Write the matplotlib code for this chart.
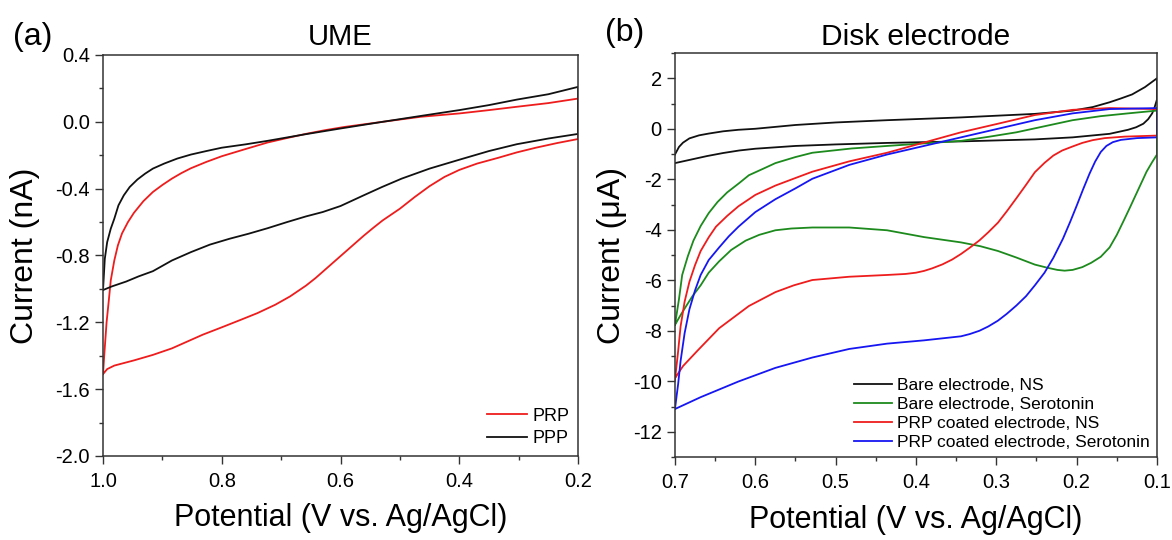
import matplotlib
matplotlib.use('Agg')
import matplotlib.pyplot as plt
from matplotlib.ticker import MultipleLocator
import numpy as np

plt.rcParams['font.family'] = ['Liberation Sans', 'DejaVu Sans']
plt.rcParams['axes.unicode_minus'] = False

# ---- (a) UME, potential (V) / current (nA), one closed CV loop per sample
ppp_v = [1.0, 0.997, 0.993, 0.987, 0.981, 0.974, 0.965, 0.955, 0.942, 0.929, 0.916, 0.897, 0.875, 0.852, 0.826, 0.80,
         0.76, 0.723, 0.66, 0.6, 0.529, 0.465, 0.4, 0.35, 0.303, 0.25, 0.2,
         0.2, 0.25, 0.303, 0.35, 0.4, 0.45, 0.497, 0.53, 0.561, 0.6, 0.63, 0.658, 0.69, 0.723, 0.755, 0.787, 0.82,
         0.852, 0.884, 0.916, 0.94, 0.961, 0.985, 1.0]
ppp_i = [-1.007, -0.82, -0.72, -0.64, -0.58, -0.50, -0.44, -0.39, -0.345, -0.31, -0.28, -0.25, -0.22, -0.196, -0.175, -0.155,
         -0.135, -0.114, -0.075, -0.04, 0.0, 0.035, 0.07, 0.10, 0.133, 0.165, 0.209,
         -0.0725, -0.10, -0.134, -0.175, -0.227, -0.28, -0.34, -0.39, -0.44, -0.504, -0.54, -0.566, -0.60, -0.637, -0.67, -0.70, -0.735,
         -0.78, -0.83, -0.894, -0.925, -0.956, -0.985, -1.007]

prp_v = [1.0, 0.998, 0.996, 0.994, 0.99, 0.987, 0.981, 0.975, 0.968, 0.958, 0.948, 0.932, 0.916, 0.9, 0.884, 0.868, 0.852,
         0.826, 0.80, 0.76, 0.723, 0.69, 0.658, 0.626, 0.594, 0.529, 0.465, 0.4, 0.35, 0.303, 0.25, 0.2,
         0.2, 0.235, 0.271, 0.303, 0.335, 0.37, 0.4, 0.425, 0.45, 0.475, 0.5, 0.529, 0.545, 0.561, 0.578, 0.594, 0.61, 0.626,
         0.642, 0.658, 0.685, 0.71, 0.74, 0.768, 0.8, 0.832, 0.858, 0.884, 0.916, 0.948, 0.981, 0.993, 1.0]
prp_i = [-1.51, -1.40, -1.30, -1.20, -1.06, -0.95, -0.83, -0.74, -0.668, -0.60, -0.545, -0.475, -0.42, -0.378, -0.34, -0.307, -0.278,
         -0.24, -0.206, -0.163, -0.124, -0.097, -0.072, -0.05, -0.031, 0.0, 0.03, 0.05, 0.07, 0.09, 0.112, 0.139,
         -0.103, -0.127, -0.155, -0.183, -0.216, -0.25, -0.288, -0.33, -0.385, -0.45, -0.52, -0.59, -0.635, -0.682, -0.735, -0.785, -0.835, -0.885,
         -0.935, -0.98, -1.045, -1.095, -1.145, -1.185, -1.23, -1.274, -1.315, -1.356, -1.395, -1.428, -1.459, -1.48, -1.51]

# ---- (b) disk electrode, potential (V) / current (uA)
bare_ns_v = [0.7, 0.695, 0.69, 0.682, 0.67, 0.658, 0.64, 0.621, 0.6, 0.55, 0.5, 0.436, 0.344, 0.252, 0.205, 0.18, 0.159,
             0.145, 0.131, 0.115, 0.1,
             0.1, 0.103, 0.106, 0.111, 0.117, 0.126, 0.136, 0.159, 0.205, 0.252, 0.344, 0.436, 0.5, 0.55, 0.6,
             0.62, 0.64, 0.66, 0.68, 0.7]
bare_ns_i = [-1.02, -0.72, -0.55, -0.38, -0.26, -0.19, -0.1, -0.04, 0.0, 0.15, 0.25, 0.34, 0.45, 0.59, 0.72, 0.86, 1.05,
             1.2, 1.36, 1.65, 2.0,
             1.16, 0.85, 0.61, 0.38, 0.2, 0.06, -0.04, -0.2, -0.34, -0.42, -0.5, -0.56, -0.62, -0.68, -0.79,
             -0.86, -0.96, -1.08, -1.22, -1.36]

bare_st_v = [0.7, 0.695, 0.691, 0.684, 0.677, 0.668, 0.658, 0.647, 0.635, 0.62, 0.608, 0.59, 0.575, 0.55, 0.529, 0.48, 0.436,
             0.39, 0.344, 0.31, 0.275, 0.24, 0.205, 0.17, 0.136, 0.1,
             0.1, 0.106, 0.113, 0.12, 0.127, 0.134, 0.141, 0.15, 0.159, 0.17, 0.182, 0.193, 0.205, 0.215, 0.224, 0.237, 0.252,
             0.275, 0.298, 0.32, 0.344, 0.39, 0.436, 0.483, 0.529, 0.555, 0.575, 0.595, 0.612, 0.63, 0.645, 0.658, 0.668,
             0.678, 0.686, 0.693, 0.7]
bare_st_i = [-7.77, -6.75, -5.79, -5.05, -4.43, -3.85, -3.34, -2.9, -2.52, -2.15, -1.84, -1.58, -1.36, -1.12, -0.95, -0.78, -0.68,
             -0.58, -0.48, -0.32, -0.14, 0.1, 0.34, 0.5, 0.61, 0.72,
             -1.02, -1.32, -1.70, -2.18, -2.66, -3.14, -3.61, -4.2, -4.70, -5.07, -5.31, -5.48, -5.59, -5.62, -5.59, -5.5, -5.38,
             -5.1, -4.84, -4.65, -4.50, -4.29, -4.02, -3.91, -3.91, -3.95, -4.02, -4.2, -4.43, -4.8, -5.25, -5.7, -6.2,
             -6.62, -7.02, -7.38, -7.77]

prp_ns_v = [0.7, 0.696, 0.693, 0.688, 0.682, 0.675, 0.668, 0.658, 0.649, 0.635, 0.621, 0.6, 0.575, 0.55, 0.529, 0.483, 0.436,
            0.39, 0.344, 0.298, 0.252, 0.205, 0.159, 0.1,
            0.1, 0.14, 0.165, 0.18, 0.193, 0.205, 0.218, 0.229, 0.24, 0.252, 0.263, 0.275, 0.287, 0.298, 0.31, 0.321, 0.333,
            0.344, 0.355, 0.367, 0.38, 0.39, 0.4, 0.413, 0.436, 0.483, 0.529, 0.552, 0.575, 0.608, 0.645, 0.672, 0.69, 0.7]
prp_ns_i = [-9.95, -8.8, -7.83, -6.85, -6.06, -5.4, -4.84, -4.3, -3.88, -3.45, -3.07, -2.62, -2.25, -1.95, -1.70, -1.29, -0.95,
            -0.545, -0.14, 0.2, 0.545, 0.75, 0.82, 0.78,
            -0.27, -0.31, -0.37, -0.45, -0.56, -0.7, -0.86, -1.06, -1.35, -1.72, -2.22, -2.75, -3.27, -3.72, -4.1, -4.42, -4.71,
            -4.96, -5.18, -5.37, -5.53, -5.63, -5.7, -5.75, -5.79, -5.86, -5.99, -6.2, -6.47, -7.02, -7.90, -8.79, -9.4, -9.88]

prp_st_v = [0.7, 0.696, 0.693, 0.688, 0.682, 0.675, 0.668, 0.658, 0.645, 0.633, 0.621, 0.6, 0.575, 0.55, 0.529, 0.483, 0.436,
            0.39, 0.344, 0.298, 0.252, 0.205, 0.159, 0.1,
            0.1, 0.125, 0.145, 0.155, 0.163, 0.17, 0.177, 0.184, 0.192, 0.2, 0.208, 0.217, 0.229, 0.24, 0.252, 0.263, 0.275,
            0.287, 0.298, 0.31, 0.321, 0.333, 0.344, 0.39, 0.436, 0.483, 0.529, 0.575, 0.621, 0.668, 0.7]
prp_st_i = [-11.1, -10.1, -9.2, -8.1, -7.15, -6.4, -5.79, -5.2, -4.70, -4.26, -3.88, -3.3, -2.79, -2.36, -1.98, -1.43, -1.02,
            -0.68, -0.34, 0.0, 0.34, 0.61, 0.78, 0.82,
            -0.34, -0.37, -0.44, -0.53, -0.68, -0.92, -1.3, -1.78, -2.4, -3.05, -3.68, -4.35, -5.11, -5.7, -6.2, -6.63, -7.0,
            -7.33, -7.6, -7.83, -8.0, -8.13, -8.22, -8.38, -8.51, -8.72, -9.06, -9.47, -10.01, -10.63, -11.1]

fig = plt.figure(figsize=(11.72, 5.40), dpi=100)
ax1 = fig.add_axes([0.0879, 0.1556, 0.4053, 0.7426])
ax2 = fig.add_axes([0.5759, 0.1537, 0.4113, 0.7481])

RED = '#ee1c1c'
GREEN = '#1c8a1c'
BLUE = '#1616f2'
BLACK = '#111111'

ax1.plot(prp_v, prp_i, color=RED, lw=1.3, label='PRP')
ax1.plot(ppp_v, ppp_i, color=BLACK, lw=1.3, label='PPP')

ax2.plot(bare_ns_v, bare_ns_i, color=BLACK, lw=1.3, label='Bare electrode, NS')
ax2.plot(bare_st_v, bare_st_i, color=GREEN, lw=1.3, label='Bare electrode, Serotonin')
ax2.plot(prp_ns_v, prp_ns_i, color=RED, lw=1.3, label='PRP coated electrode, NS')
ax2.plot(prp_st_v, prp_st_i, color=BLUE, lw=1.3, label='PRP coated electrode, Serotonin')

ax1.set_xlim(1.0, 0.2)
ax1.set_ylim(-2.0, 0.4)
ax1.xaxis.set_major_locator(MultipleLocator(0.2))
ax1.xaxis.set_minor_locator(MultipleLocator(0.1))
ax1.yaxis.set_major_locator(MultipleLocator(0.4))
ax1.yaxis.set_minor_locator(MultipleLocator(0.2))
ax1.xaxis.set_major_formatter(plt.FormatStrFormatter('%.1f'))
ax1.yaxis.set_major_formatter(plt.FormatStrFormatter('%.1f'))

ax2.set_xlim(0.7, 0.1)
ax2.set_ylim(-13, 3)
ax2.xaxis.set_major_locator(MultipleLocator(0.1))
ax2.xaxis.set_minor_locator(MultipleLocator(0.05))
ax2.yaxis.set_major_locator(MultipleLocator(2))
ax2.yaxis.set_minor_locator(MultipleLocator(1))
ax2.xaxis.set_major_formatter(plt.FormatStrFormatter('%.1f'))

for ax in (ax1, ax2):
    for s in ax.spines.values():
        s.set_color('#333333')
        s.set_linewidth(1.1)
    ax.tick_params(which='major', direction='out', length=5.5, width=1.0, labelsize=14.5, color='#333333', pad=4)
    ax.tick_params(which='minor', direction='out', length=3, width=1.0, color='#333333')
    ax.xaxis.set_tick_params(pad=6)

ax1.set_xlabel('Potential (V vs. Ag/AgCl)', fontsize=22, va='top')
ax1.xaxis.set_label_coords(0.5, -0.117)
ax1.set_ylabel('Current (nA)', fontsize=23)
ax1.yaxis.set_label_coords(-0.133, 0.5)
ax2.set_xlabel('Potential (V vs. Ag/AgCl)', fontsize=22, va='top')
ax2.xaxis.set_label_coords(0.5, -0.119)
ax2.set_ylabel('Current (\u03bcA)', fontsize=23)
ax2.yaxis.set_label_coords(-0.10, 0.5)

ax1.set_title('UME', fontsize=21, pad=7)
ax2.set_title('Disk electrode', fontsize=21.5, pad=6)

fig.text(33 / 1172, 1 - 37 / 540, '(a)', fontsize=23, ha='center', va='center')
fig.text(625 / 1172, 1 - 33 / 540, '(b)', fontsize=23, ha='center', va='center')

ax1.legend(loc='lower right', frameon=False, fontsize=13, handlelength=2.2, handletextpad=0.3,
           labelspacing=0.3, borderaxespad=0.3, borderpad=0.2)
ax2.legend(loc='lower right', frameon=False, fontsize=12.5, handlelength=2.2, handletextpad=0.3,
           labelspacing=0.22, borderaxespad=0.2, borderpad=0.2)

plt.savefig('out.png', dpi=100)
